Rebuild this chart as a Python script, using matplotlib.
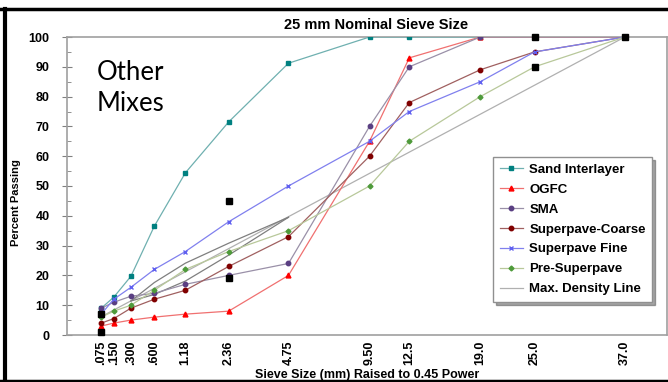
import matplotlib.pyplot as plt
from matplotlib.lines import Line2D
import numpy as np

plt.rcParams['font.family'] = ['Liberation Sans', 'DejaVu Sans']

# sieve sizes (mm) and tick labels
sieves = [0.075, 0.150, 0.300, 0.600, 1.18, 2.36, 4.75, 9.50, 12.5, 19.0, 25.0, 37.0]
sieve_labels = ['.075', '.150', '.300', '.600', '1.18', '2.36', '4.75',
                '9.50', '12.5', '19.0', '25.0', '37.0']

# percent passing for each mix
sand_interlayer = [9, 12.7, 19.7, 36.5, 54.4, 71.5, 91.2, 100, 100, 100, 100, 100]
ogfc = [3, 4, 5, 6, 7, 8, 20, 65, 93, 100, 100, 100]
sma = [9, 11, 13, 14, 17, 20, 24, 70, 90, 100, 100, 100]
superpave_coarse = [4, 5.5, 9, 12, 15, 23, 33, 60, 78, 89, 95, 100]
superpave_fine = [7, 12, 16, 22, 28, 38, 50, 65, 75, 85, 95, 100]
pre_superpave = [6, 8, 10, 15, 22, 28, 35, 50, 65, 80, 90, 100]

# control points
ctrl_sizes = [0.075, 0.075, 2.36, 2.36, 25.0, 25.0, 37.0]
ctrl_values = [1, 7, 19, 45, 90, 100, 100]

# restricted zone
rz_sizes = [0.300, 0.600, 1.18, 2.36, 4.75]
rz_upper = [11.4, 17.6, 24.1, 30.8, 39.5]
rz_lower = [11.4, 13.6, 18.1, 26.8, 39.5]

p = 0.45
def tx(v):
    return np.array(v) ** p

fig = plt.figure(figsize=(6.68, 3.82), dpi=100)
ax = fig.add_axes([67 / 668, 1 - 335 / 382, 600 / 668, 298 / 382])

# max density line
maxd = [100 * (s / 37.0) ** p for s in sieves]
ax.plot(tx(sieves), maxd, color='#b0b0b0', lw=0.9, zorder=2)
ax.plot(tx(rz_sizes), rz_upper, color='#7f7f7f', lw=0.9, zorder=2)
ax.plot(tx(rz_sizes), rz_lower, color='#7f7f7f', lw=0.9, zorder=2)

series = [
    ('Sand Interlayer', sand_interlayer, '#6fb0b0', '#008080', 's', 3.5),
    ('OGFC', ogfc, '#f07070', '#ff0000', '^', 3.5),
    ('SMA', sma, '#9a90a8', '#5a3f82', 'o', 3.2),
    ('Superpave-Coarse', superpave_coarse, '#a06060', '#800000', 'o', 3.2),
    ('Superpave Fine', superpave_fine, '#8080ee', '#6060f0', 'x', 3.5),
    ('Pre-Superpave', pre_superpave, '#b8c89a', '#4e9a3a', 'D', 2.5),
]
handles = []
for name, vals, lc, mc, mk, ms in series:
    ax.plot(tx(sieves), vals, color=lc, lw=0.9, marker=mk, ms=ms,
            mfc=mc, mec=mc, mew=1, zorder=3)
    handles.append(Line2D([], [], color=lc, lw=0.9, marker=mk, ms=ms,
                          mfc=mc, mec=mc, label=name))
handles.append(Line2D([], [], color='#b0b0b0', lw=0.9, label='Max. Density Line'))

ax.plot(tx(ctrl_sizes), ctrl_values, ls='none', marker='s', ms=4,
        color='black', zorder=4, clip_on=False)

ax.set_xlim(0, 5.462)
ax.set_ylim(0, 100)
ax.set_xticks(tx(sieves))
ax.set_xticklabels(sieve_labels, rotation=90, fontsize=9, fontweight='bold')
ax.tick_params(axis='x', length=0, pad=4)
ax.set_yticks(range(0, 101, 10))
ax.set_yticks(range(5, 100, 10), minor=True)
ax.tick_params(axis='y', which='major', direction='inout', length=7,
               labelsize=9, color='#808080', pad=9)
ax.tick_params(axis='y', which='minor', direction='in', length=3, color='#808080')
for lab in ax.get_yticklabels():
    lab.set_fontweight('bold')
for s in ax.spines.values():
    s.set_color('#a0a0a0')
    s.set_linewidth(1.2)

ax.set_title('25 mm Nominal Sieve Size', fontsize=10.5, fontweight='bold',
             pad=6, x=(376 - 67) / 600)
ax.set_xlabel('Sieve Size (mm) Raised to 0.45 Power', fontsize=9,
              fontweight='bold', labelpad=3)
ax.set_ylabel('Percent Passing', fontsize=8, fontweight='bold')
ax.yaxis.set_label_coords((21 - 67) / 600, (335 - 203) / 298)

ax.text((97 - 67) / 600, (335 - 80) / 298, 'Other', transform=ax.transAxes,
        fontsize=18.5, family=['Lato', 'DejaVu Sans'], va='baseline', ha='left')
ax.text((97 - 67) / 600, (335 - 111) / 298, 'Mixes', transform=ax.transAxes,
        fontsize=18.5, family=['Lato', 'DejaVu Sans'], va='baseline', ha='left')

leg = ax.legend(handles=handles, loc='upper left',
                bbox_to_anchor=((493 - 67) / 600, (335 - 157) / 298),
                prop={'weight': 'bold', 'size': 9.5},
                frameon=True, fancybox=False, shadow=True,
                handlelength=1.8, labelspacing=0.58, borderpad=0.5,
                handletextpad=0.45, borderaxespad=0)
leg.get_frame().set_edgecolor('#909090')

# outer black frame
fig.add_artist(Line2D([0, 1], [1 - 8.5 / 382] * 2, color='black', lw=2.5,
                      transform=fig.transFigure))
fig.add_artist(Line2D([5 / 668] * 2, [0, 1 - 8.5 / 382], color='black', lw=3,
                      transform=fig.transFigure))
fig.add_artist(Line2D([0, 1], [1.5 / 382] * 2, color='black', lw=2.5,
                      transform=fig.transFigure))

fig.savefig('out.png', dpi=100)
